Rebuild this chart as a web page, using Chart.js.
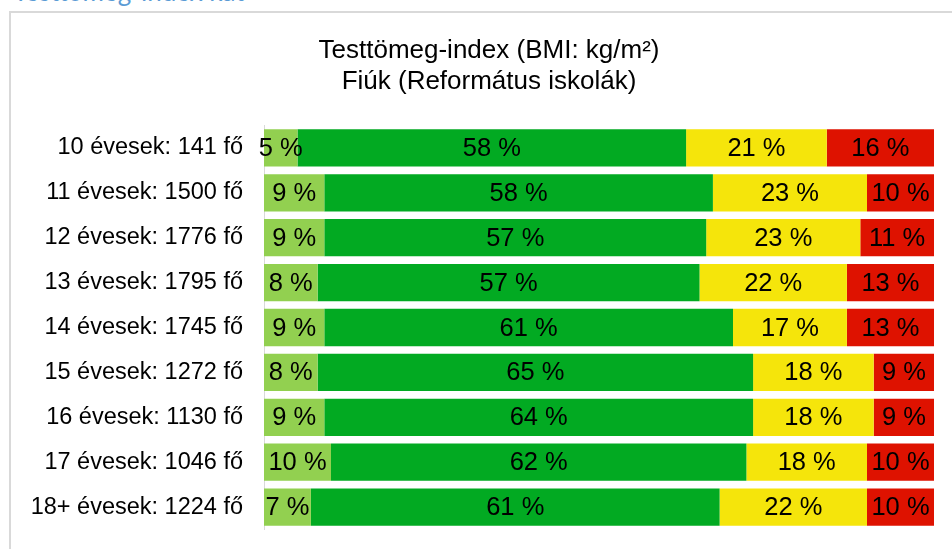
<!DOCTYPE html>
<html>
<head>
<meta charset="utf-8">
<script src="https://cdn.jsdelivr.net/npm/chart.js@4"></script>
<style>
    html, body { margin: 0; padding: 0; background: #fff; overflow: hidden; }
    #page { position: relative; width: 952px; height: 549px; overflow: hidden; }
    #heading {
        position: absolute; left: 13px; top: -25px;
        font-family: Lato, "Liberation Sans", sans-serif; font-size: 26px;
        color: #5b9bd5; white-space: nowrap;
    }
    #box {
        position: absolute; left: 9px; top: 11px; width: 970px; height: 560px;
        border: 2px solid #d9d9d9; box-sizing: border-box;
    }
    #wrap { position: absolute; left: 0; top: 0; width: 952px; height: 549px; }
</style>
</head>
<body>
<div id="page">
    <div id="heading">Testtömeg-index kat</div>
    <div id="box"></div>
    <div id="wrap"><canvas id="chart"></canvas></div>
</div>
<script>
document.addEventListener('DOMContentLoaded', () => {

    // -----------------------
    // DATA
    // -----------------------

    const categories = [
        "10 évesek: 141 fő",
        "11 évesek: 1500 fő",
        "12 évesek: 1776 fő",
        "13 évesek: 1795 fő",
        "14 évesek: 1745 fő",
        "15 évesek: 1272 fő",
        "16 évesek: 1130 fő",
        "17 évesek: 1046 fő",
        "18+ évesek: 1224 fő"
    ];

    const sovany    = [5, 9, 9, 8, 9, 8, 9, 10, 7];
    const normal    = [58, 58, 57, 57, 61, 65, 64, 62, 61];
    const tulsulyos = [21, 23, 23, 22, 17, 18, 18, 18, 22];
    const elhizott  = [16, 10, 11, 13, 13, 9, 9, 10, 10];

    const titleLines = ["Testtömeg-index (BMI: kg/m²)", "Fiúk (Református iskolák)"];

    const FONT = '"Liberation Sans", Arial, sans-serif';

    // -----------------------
    // PLUGINS
    // -----------------------

    // draws the "NN %" text centred in every segment
    const segmentLabels = {
        id: 'segmentLabels',
        afterDatasetsDraw(chart){
            const ctx = chart.ctx;
            ctx.save();
            ctx.font = '25.5px ' + FONT;
            ctx.fillStyle = '#000';
            ctx.textAlign = 'center';
            ctx.textBaseline = 'middle';
            chart.data.datasets.forEach((ds, i) => {
                const meta = chart.getDatasetMeta(i);
                meta.data.forEach((bar, j) => {
                    const cx = (bar.x + bar.base) / 2;
                    ctx.fillText(ds.data[j] + ' %', cx, bar.y + 1);
                });
            });
            ctx.restore();
        }
    };

    // two-line title, centred on the chart box rather than the canvas
    const boxTitle = {
        id: 'boxTitle',
        afterDraw(chart){
            const ctx = chart.ctx;
            ctx.save();
            ctx.font = '26px ' + FONT;
            ctx.fillStyle = '#000';
            ctx.textAlign = 'center';
            ctx.textBaseline = 'alphabetic';
            titleLines.forEach((line, i) => {
                ctx.fillText(line, 489, 58 + i * 30.5);
            });
            ctx.restore();
        }
    };

    // -----------------------
    // CHART
    // -----------------------

    const ctx = document.getElementById('chart').getContext('2d');

    new Chart(ctx, {
        type: 'bar',
        data: {
            labels: categories,
            datasets: [
                { data: sovany,    backgroundColor: '#92d050' },
                { data: normal,    backgroundColor: '#02aa22' },
                { data: tulsulyos, backgroundColor: '#f5e50b' },
                { data: elhizott,  backgroundColor: '#de1200' }
            ]
        },
        options: {
            indexAxis: 'y',
            responsive: true,
            maintainAspectRatio: false,
            animation: false,
            datasets: {
                bar: { barPercentage: 0.83, categoryPercentage: 1, borderWidth: 0 }
            },
            layout: { padding: { left: 0, right: 18, top: 125.5, bottom: 19.5 } },
            scales: {
                x: { stacked: true, min: 0, max: 100, display: false },
                y: {
                    stacked: true,
                    grid: { display: false, drawTicks: false },
                    border: { display: true, color: '#d9d9d9', width: 1 },
                    ticks: {
                        padding: 21,
                        color: '#000',
                        font: { family: FONT, size: 23.5 }
                    },
                    afterFit(scale){
                        scale.width = 264;
                        scale.paddingTop = 0;
                        scale.paddingBottom = 0;
                    }
                }
            },
            plugins: {
                legend: { display: false },
                tooltip: { enabled: false },
                title: { display: false }
            }
        },
        plugins: [segmentLabels, boxTitle]
    });

});
</script>
</body>
</html>
